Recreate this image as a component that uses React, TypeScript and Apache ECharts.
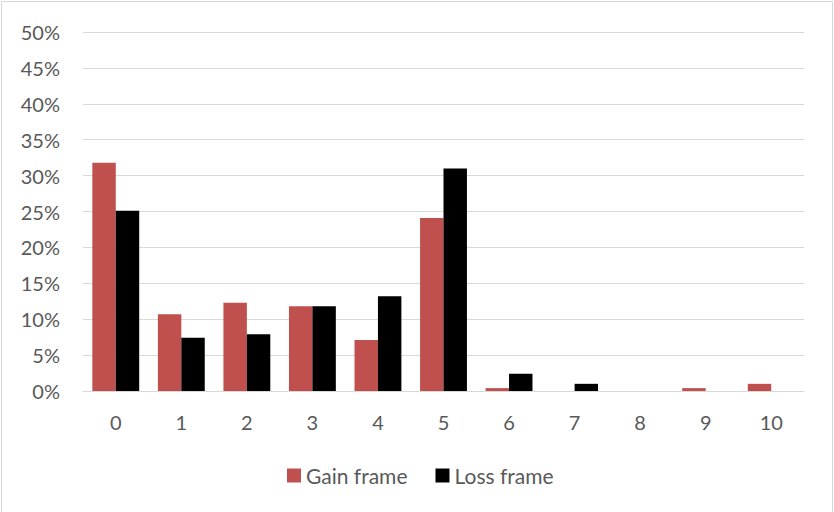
import React, { useEffect, useRef } from "react";
import * as echarts from "echarts";

// Number of frames (0–10) and the share of trials for each condition, in percent
const categories = ["0", "1", "2", "3", "4", "5", "6", "7", "8", "9", "10"];
const gainFrame = [31.8, 10.7, 12.3, 11.8, 7.1, 24.1, 0.4, 0, 0, 0.4, 1.0];
const lossFrame = [25.1, 7.4, 7.9, 11.8, 13.2, 31.0, 2.4, 1.0, 0, 0, 0];
const seriesNames = ["Gain frame", "Loss frame"];

const TEXT = "#595959";
const GRID = "#d9d9d9";
const FONT = "Lato, 'Open Sans', sans-serif";

export default function App() {
  const ref = useRef<HTMLDivElement>(null);

  useEffect(() => {
    document.body.style.margin = "0";
    if (!ref.current) return;
    const chart = echarts.init(ref.current, undefined, { renderer: "svg" });
    chart.setOption({
      animation: false,
      backgroundColor: "#ffffff",
      textStyle: { fontFamily: FONT },
      graphic: [
        {
          type: "rect",
          shape: { x: 1.5, y: 1.5, width: 831, height: 530 },
          style: { fill: "none", stroke: GRID, lineWidth: 1 },
          silent: true,
        },
      ],
      grid: { left: 83, right: 30, top: 32, bottom: 121, containLabel: false },
      legend: {
        data: seriesNames,
        top: 460,
        left: 282,
        itemWidth: 14,
        itemHeight: 14,
        itemGap: 28,
        icon: "rect",
        textStyle: { color: TEXT, fontSize: 21, fontFamily: FONT },
      },
      xAxis: {
        type: "category",
        data: categories,
        axisLine: { show: true, lineStyle: { color: GRID, width: 1 } },
        axisTick: { show: false },
        axisLabel: { color: TEXT, fontSize: 20, fontFamily: FONT, margin: 21 },
      },
      yAxis: {
        type: "value",
        min: 0,
        max: 50,
        interval: 5,
        axisLine: { show: false },
        axisTick: { show: false },
        splitLine: { lineStyle: { color: GRID, width: 1 } },
        axisLabel: {
          color: TEXT,
          fontSize: 20,
          fontFamily: FONT,
          margin: 23,
          formatter: "{value}%",
        },
      },
      series: [
        {
          name: seriesNames[0],
          type: "bar",
          data: gainFrame,
          barGap: "0%",
          barCategoryGap: "28.5%",
          itemStyle: { color: "#c0504d" },
        },
        {
          name: seriesNames[1],
          type: "bar",
          data: lossFrame,
          barGap: "0%",
          barCategoryGap: "28.5%",
          itemStyle: { color: "#000000" },
        },
      ],
    });
    return () => chart.dispose();
  }, []);

  return <div ref={ref} style={{ width: 834, height: 512 }} />;
}
